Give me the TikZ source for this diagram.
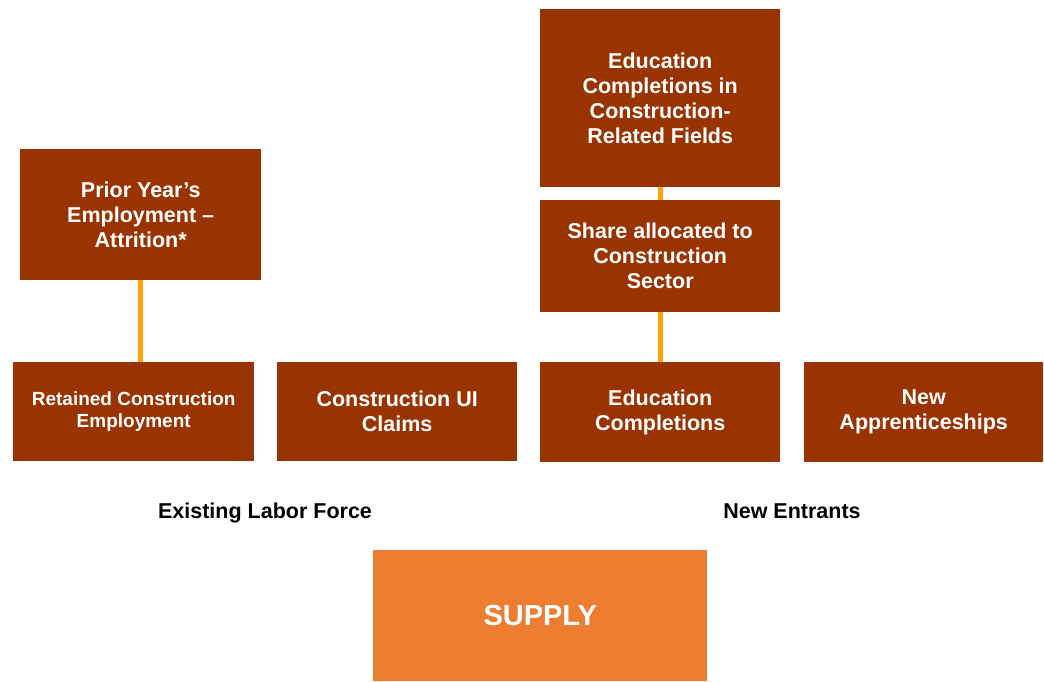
\documentclass[tikz,border=0pt]{standalone}
\usepackage{fontspec}
\setmainfont{Liberation Sans}
\definecolor{boxbrown}{RGB}{153,51,0}
\definecolor{supplyor}{RGB}{237,125,49}
\definecolor{linkor}{RGB}{255,165,0}
\tikzset{
  bx/.style={fill=boxbrown, text=white, font=\fontsize{21.5}{25}\selectfont\bfseries, align=center, inner sep=0pt, anchor=north west},
  link/.style={draw=linkor, line width=5pt},
  lbl/.style={font=\fontsize{21.5}{25}\selectfont\bfseries, text=black, anchor=base}
}
\begin{document}
\begin{tikzpicture}[x=1pt,y=-1pt]
\useasboundingbox (0,0) rectangle (1044,681);
\node[bx, minimum width=241pt, minimum height=131pt] (prior) at (20,149) {Prior Year’s\\Employment –\\Attrition*};
\node[bx, minimum width=241pt, minimum height=99pt, font=\fontsize{19}{22}\selectfont\bfseries] (ret) at (13,362) {Retained Construction\\Employment};
\node[bx, minimum width=240pt, minimum height=99pt] (ui) at (277,362) {Construction UI\\Claims};
\node[bx, minimum width=240pt, minimum height=100pt] (edc) at (540,362) {Education\\Completions};
\node[bx, minimum width=239pt, minimum height=100pt] (app) at (804,362) {New\\Apprenticeships};
\node[bx, minimum width=240pt, minimum height=178pt] (top) at (540,9) {Education\\Completions in\\Construction-\\Related Fields};
\node[bx, minimum width=240pt, minimum height=112pt] (share) at (540,200) {Share allocated to\\Construction\\Sector};
\draw[link] (prior.south) -- (ret.north -| prior.south);
\draw[link] (top.south) -- (share.north);
\draw[link] (share.south) -- (edc.north);
\node[lbl] (elf) at (265,518) {Existing Labor Force};
\node[lbl] (ne) at (792,518) {New Entrants};
\node[fill=supplyor, text=white, font=\fontsize{29}{32}\selectfont\bfseries, minimum width=334pt, minimum height=131pt, inner sep=0pt, anchor=north west] (sup) at (373,550) {SUPPLY};
\end{tikzpicture}
\end{document}
